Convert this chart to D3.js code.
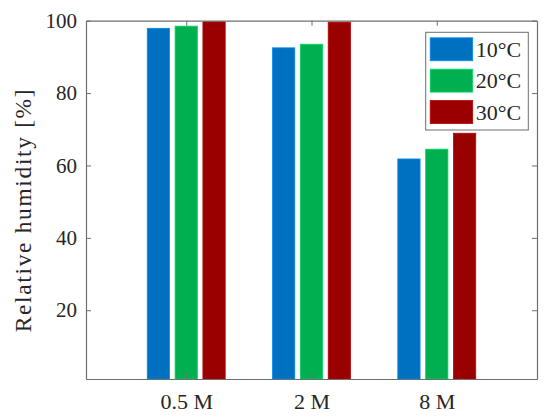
<!DOCTYPE html>
<html>
<head>
<meta charset="utf-8">
<script src="https://cdn.jsdelivr.net/npm/d3@7"></script>
<style>
  html, body { margin: 0; padding: 0; background: #fff; }
  svg { display: block; }
  text { font-family: "Liberation Serif", "DejaVu Serif", serif; fill: #262626; }
</style>
</head>
<body>
<svg id="chart" width="550" height="417"></svg>
<script>
const categories = ["0.5 M", "2 M", "8 M"];
const seriesNames = ["10°C", "20°C", "30°C"];
const seriesColors = ["#0070C0", "#00B050", "#990000"];
const values10 = [97.9, 92.5, 61.8];
const values20 = [98.5, 93.5, 64.5];
const values30 = [99.7, 99.6, 68.9];
const yTicks = [20, 40, 60, 80, 100];
const yLabel = "Relative humidity [%]";

const seriesValues = [values10, values20, values30];

const svg = d3.select("#chart");
const mLeft = 86, mRight = 537, mTop = 20.7, mBottom = 379;
const axisColor = "#6e6e6e";
const fontSize = 21;

// x as continuous positions 1..3 with limits [0.2, 3.8] (MATLAB-style)
const x = d3.scaleLinear().domain([0.2, 3.8]).range([mLeft, mRight]);
const y = d3.scaleLinear().domain([1, 100]).range([mBottom, mTop]);

const nS = seriesValues.length;
const groupWidth = Math.min(0.8, nS / (nS + 1.5));
const barW = groupWidth / nS * 0.8;
const offsets = seriesValues.map((_, i) => (i - (nS - 1) / 2) * groupWidth / nS);

// bars
const g = svg.append("g");
seriesValues.forEach((vals, si) => {
  g.selectAll(null).data(vals).enter().append("rect")
    .attr("x", (d, ci) => x(ci + 1 + offsets[si] - barW / 2))
    .attr("width", x(barW) - x(0))
    .attr("y", d => y(d))
    .attr("height", d => y(1) - y(d))
    .attr("fill", seriesColors[si])
    .attr("stroke", d3.color(seriesColors[si]).brighter(0.6))
    .attr("stroke-width", 0.8);
});

// axes
const tickLen = 5;
const xAxis = d3.axisBottom(x).tickValues([1, 2, 3]).tickFormat((d) => categories[d - 1]).tickSizeInner(-tickLen).tickSizeOuter(0).tickPadding(14);
const yAxis = d3.axisLeft(y).tickValues(yTicks).tickSizeInner(-tickLen).tickSizeOuter(0).tickPadding(9);
const xAxisTop = d3.axisTop(x).tickValues([1, 2, 3]).tickFormat("").tickSizeInner(-tickLen).tickSizeOuter(0);
const yAxisRight = d3.axisRight(y).tickValues(yTicks).tickFormat("").tickSizeInner(-tickLen).tickSizeOuter(0);

function styleAxis(sel) {
  sel.selectAll("path").attr("stroke", axisColor).attr("stroke-width", 1.2);
  sel.selectAll("line").attr("stroke", axisColor).attr("stroke-width", 1);
  sel.selectAll("text").attr("font-size", fontSize).attr("fill", "#262626")
    .attr("font-family", "'Liberation Serif', 'DejaVu Serif', serif");
}

svg.append("g").attr("transform", `translate(0,${mBottom})`).call(xAxis).call(styleAxis);
svg.append("g").attr("transform", `translate(${mLeft},0)`).call(yAxis).call(styleAxis);
svg.append("g").attr("transform", `translate(0,${mTop})`).call(xAxisTop).call(styleAxis);
svg.append("g").attr("transform", `translate(${mRight},0)`).call(yAxisRight).call(styleAxis);

// x labels slightly wider like the reference font
svg.selectAll(".tick text").filter(function() { return this.textContent.includes("M"); })
  .attr("font-size", 22);

// y label
svg.append("text")
  .attr("transform", `translate(31,${(mTop + mBottom) / 2 + 11}) rotate(-90)`)
  .attr("text-anchor", "middle")
  .attr("font-size", 23.5)
  .attr("textLength", 243)
  .attr("lengthAdjust", "spacing")
  .text(yLabel);

// legend
const lg = svg.append("g");
const lx = 425.7, ly = 32.3, lw = 102.6, lh = 97.7;
lg.append("rect").attr("x", lx).attr("y", ly).attr("width", lw).attr("height", lh)
  .attr("fill", "#fff").attr("stroke", axisColor).attr("stroke-width", 1);
const rowY = d3.scaleBand().domain(seriesNames).range([ly + 3, ly + lh - 4]).paddingInner(0.27).paddingOuter(0.08);
seriesNames.forEach((name, i) => {
  lg.append("rect").attr("x", lx + 4.5).attr("y", rowY(name)).attr("width", 42.5).attr("height", rowY.bandwidth())
    .attr("fill", seriesColors[i])
    .attr("stroke", d3.color(seriesColors[i]).brighter(0.6)).attr("stroke-width", 0.8);
  lg.append("text").attr("x", lx + 50).attr("y", rowY(name) + rowY.bandwidth() / 2 + 7.5)
    .attr("font-size", 22).text(name);
});
</script>
</body>
</html>
